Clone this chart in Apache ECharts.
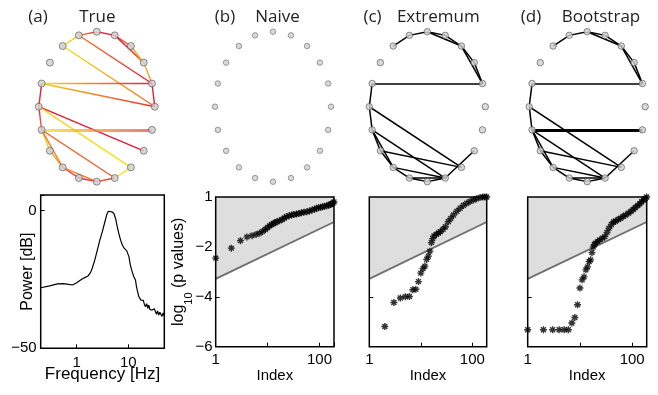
<!DOCTYPE html>
<html>
<head>
<meta charset="utf-8">
<script src="https://cdn.jsdelivr.net/npm/echarts@6/dist/echarts.min.js"></script>
<style>
  html, body { margin: 0; padding: 0; background: #fff; }
  #chart { width: 658px; height: 395px; }
</style>
</head>
<body>
<div id="chart"></div>
<script>
// ---- data ----
const nodeCount = 20; // nodes on the ring, node 0 at top, clockwise
const panelLetters = ['(a)', '(b)', '(c)', '(d)'];
const panelNames = ['True', 'Naive', 'Extremum', 'Bootstrap'];

// true network: [from, to, heat at from, heat at to, strength]  (heat 0 = yellow, 1 = red)
const trueEdges = [
  [18, 19, 0, 0.2, 1], [19, 0, 0.5, 0.9, 1], [0, 1, 0.9, 1, 1], [1, 2, 0.9, 0.6, 1],
  [1, 3, 1, 0.7, 1], [2, 3, 0.5, 0.1, 1], [3, 4, 0.2, 0.5, 1], [4, 5, 1, 1, 1],
  [18, 5, 0, 0.6, 1], [19, 4, 0.5, 1, 1], [16, 4, 0, 1, 1], [16, 5, 0.1, 0.9, 1],
  [16, 15, 1, 0.9, 1], [15, 14, 1, 0.6, 1], [15, 7, 1, 1, 1], [15, 8, 0.1, 0, 1],
  [14, 6, 0, 0.85, 2], [14, 9, 0.6, 0.7, 1], [14, 13, 0, 0.2, 1], [13, 12, 0.2, 0.5, 1],
  [14, 12, 0.6, 0.5, 1], [12, 11, 0.6, 1, 1], [11, 10, 1, 0.8, 1], [12, 10, 0.5, 0.6, 1],
  [10, 9, 0.7, 0.9, 1], [9, 8, 0, 0, 1]
];
const naiveEdges = [];
// [from, to, strength]
const extremumEdges = [
  [18, 19, 1], [19, 0, 1], [0, 1, 1], [1, 2, 1], [2, 3, 1], [3, 4, 1], [0, 2, 1], [2, 4, 1],
  [16, 4, 1], [16, 15, 1], [15, 14, 1], [15, 8, 1], [14, 13, 1], [13, 12, 1], [14, 12, 1],
  [14, 9, 1], [13, 8, 1], [12, 11, 1], [11, 10, 1], [10, 9, 1], [12, 9, 1], [11, 9, 1], [7, 9, 1]
];
const bootstrapEdges = extremumEdges.concat([[14, 6, 2]]);

// power spectrum
const freqHz = [0.2, 0.3, 0.42, 0.55, 0.7, 0.83, 1.0, 1.19, 1.4, 1.66, 1.85, 2.0, 2.25, 2.51, 2.8,
  3.14, 3.5, 3.8, 4.1, 4.4, 4.8, 5.26, 5.7, 6.1, 6.6, 7.1, 7.6, 8.2, 8.7, 9.3, 9.8, 10.3, 10.9,
  11.6, 12.2, 12.8, 13.3, 13.8, 14.4, 14.9, 15.5, 16, 16.8, 17.6, 18.6, 19.6, 20.6, 21.6, 22.8,
  24, 25, 26.3, 27.6, 29, 30.5, 32, 33.7, 35.3, 37, 39, 41, 43, 45, 47.5, 50];
const powerDb = [-28, -27.3, -26.6, -26.5, -26.8, -27, -26.2, -25.2, -24.4, -23.7, -22.5, -20.9,
  -17.8, -14.3, -10.8, -7.6, -4.2, -1.6, -0.2, 0, -0.4, -1.0, -3, -5.8, -8.5, -10.7, -12.3, -13.5,
  -13.2, -14.5, -14, -16.7, -19.5, -21.5, -22.8, -24, -23.5, -25.2, -27.5, -28.8, -29.3, -31.2,
  -30.8, -32.5, -33.1, -32.6, -34.1, -34.9, -33.8, -35.5, -34.3, -35.9, -35.2, -36.1, -36.8,
  -35.6, -36.7, -37.6, -36.4, -37.9, -36.9, -37.3, -38.4, -37.2, -38.3];

// sorted p values, log10
const naiveIndex = [1, 2, 3, 4, 5, 6, 7, 8, 9, 10, 11, 12, 13, 14, 15, 17, 19, 21, 23, 26, 29, 32,
  36, 40, 45, 50, 57, 64, 72, 80, 88, 96, 105, 115, 125, 138, 150, 160, 170, 180, 190];
const naiveLogP = [-2.45, -2.05, -1.75, -1.6, -1.55, -1.5, -1.45, -1.38, -1.3, -1.22, -1.15, -1.1,
  -1.06, -1.02, -0.99, -0.95, -0.9, -0.84, -0.79, -0.75, -0.72, -0.7, -0.68, -0.66, -0.63, -0.61,
  -0.59, -0.56, -0.52, -0.49, -0.45, -0.43, -0.41, -0.39, -0.37, -0.35, -0.33, -0.3, -0.28, -0.25, -0.2];
const extremumIndex = [2, 3, 4, 5, 6, 7, 8, 9, 10, 11, 12, 13, 14, 15, 16, 17, 18, 20, 22, 24, 27,
  30, 34, 38, 43, 50, 58, 67, 78, 90, 105, 120, 141, 160, 175, 190];
const extremumLogP = [-5.19, -4.23, -4.05, -4.0, -3.99, -3.72, -3.7, -3.39, -3.05, -2.87, -2.77,
  -2.5, -2.37, -2.17, -1.83, -1.67, -1.56, -1.5, -1.44, -1.39, -1.29, -1.19, -0.99, -0.86, -0.72,
  -0.57, -0.45, -0.34, -0.25, -0.18, -0.12, -0.07, -0.02, 0, 0, 0];
const bootstrapIndex = [1, 2, 3, 4, 5, 6, 7, 8, 9, 10, 11, 12, 13, 14, 15, 16, 17, 18, 19, 20, 22,
  24, 27, 30, 33, 36, 40, 44, 48, 54, 60, 67, 75, 85, 95, 105, 115, 128, 140, 152, 165, 178, 190];
const bootstrapLogP = [-5.32, -5.32, -5.32, -5.32, -5.32, -5.32, -5.05, -4.83, -4.32, -3.65, -3.32,
  -3.2, -2.92, -2.8, -2.59, -2.52, -2.23, -2.01, -1.9, -1.85, -1.78, -1.72, -1.65, -1.59, -1.42,
  -1.25, -1.1, -1.0, -0.97, -0.9, -0.85, -0.78, -0.72, -0.65, -0.57, -0.5, -0.42, -0.34, -0.27,
  -0.19, -0.12, -0.06, 0];

// significance threshold line
const thresholdIndex = [1, 190];
const thresholdLogP = [-3.28, -1.0];

// ---- layout / style ----
const labelFont = 'Liberation Sans';
const titleFont = 'Open Sans';
const netCenters = [96.8, 273, 427.3, 587.2];
const netHalfW = 58, netTop = 31.7, netH = 150;
const plotBoxes = [
  { left: 40.7, top: 195, width: 123.6, height: 153.3 },
  { left: 215.7, top: 197, width: 118.3, height: 149.7 },
  { left: 369.3, top: 197, width: 117.4, height: 149.7 },
  { left: 527.7, top: 197, width: 119, height: 149.7 }
];
const heatStops = [[247, 228, 20], [241, 136, 50], [228, 26, 56]];
const starPath = 'path://M-1,-5L1,-5L1,5L-1,5Z M-5,-1L5,-1L5,1L-5,1Z ' +
  'M-4.2,-2.8L-2.8,-4.2L4.2,2.8L2.8,4.2Z M-4.2,2.8L2.8,-4.2L4.2,-2.8L-2.8,4.2Z';

function heat(v) {
  const s = v <= 0.5 ? 0 : 1;
  const t = v <= 0.5 ? v / 0.5 : (v - 0.5) / 0.5;
  const a = heatStops[s], b = heatStops[s + 1];
  const c = a.map((x, i) => Math.round(x + (b[i] - x) * t));
  return 'rgb(' + c.join(',') + ')';
}

function nodePos(k) {
  const ang = (90 - 360 / nodeCount * k) * Math.PI / 180;
  return [Math.cos(ang), Math.sin(ang)];
}
const nodeData = [];
for (let k = 0; k < nodeCount; k++) nodeData.push(nodePos(k));

function edgeLine(e, colored, baseWidth) {
  const p = nodePos(e[0]), q = nodePos(e[1]);
  const strength = colored ? e[4] : e[2];
  let color = '#000';
  if (colored) {
    const x0 = p[0] <= q[0] ? 0 : 1, y0 = p[1] >= q[1] ? 0 : 1;
    color = {
      type: 'linear', x: x0, y: y0, x2: 1 - x0, y2: 1 - y0,
      colorStops: [{ offset: 0, color: heat(e[2]) }, { offset: 1, color: heat(e[3]) }]
    };
  }
  return {
    coords: [p, q],
    lineStyle: { color: color, width: baseWidth * strength, opacity: colored && strength > 1 ? 0.7 : 1 }
  };
}

const grids = [], xAxes = [], yAxes = [], series = [];
const edgeSets = [trueEdges, naiveEdges, extremumEdges, bootstrapEdges];
const nodeSizes = [7, 5.5, 6.5, 6.5];

// network panels
for (let i = 0; i < 4; i++) {
  grids.push({ left: netCenters[i] - netHalfW, top: netTop, width: netHalfW * 2, height: netH, show: false });
  xAxes.push({ gridIndex: i, type: 'value', min: -1, max: 1, show: false });
  yAxes.push({ gridIndex: i, type: 'value', min: -1, max: 1, show: false });
  if (edgeSets[i].length) {
    series.push({
      type: 'lines', coordinateSystem: 'cartesian2d', xAxisIndex: i, yAxisIndex: i,
      silent: true, z: 2,
      data: edgeSets[i].map(e => edgeLine(e, i === 0, i === 0 ? 1.4 : 1.5))
    });
  }
  series.push({
    type: 'scatter', xAxisIndex: i, yAxisIndex: i, data: nodeData, clip: false, z: 3,
    symbolSize: nodeSizes[i],
    itemStyle: { color: '#cfcfcf', borderColor: i === 1 ? '#6a6a6a' : '#505050', borderWidth: 0.8 }
  });
}

// plot panels
const tickStyle = { show: true, inside: true, length: 4, lineStyle: { color: '#000', width: 1 } };
const noLine = { show: false, onZero: false };
function logLabel(keep) {
  return function (v) {
    for (const k of keep) if (Math.abs(v - k) < 1e-6 * k) return String(k);
    return '';
  };
}
for (let j = 0; j < 4; j++) {
  grids.push(Object.assign({ show: true, borderColor: '#000', borderWidth: 1.5, z: 10 }, plotBoxes[j]));
}
// (a) spectrum
xAxes.push({
  gridIndex: 4, type: 'log', logBase: 10, min: 0.2, max: 50,
  axisLine: noLine, axisTick: tickStyle, splitLine: { show: false }, minorTick: { show: false },
  axisLabel: { margin: 7, color: '#000', fontSize: 15, fontFamily: labelFont, formatter: logLabel([1, 10]) },
  name: 'Frequency [Hz]', nameLocation: 'middle', nameGap: 18, nameMoveOverlap: false,
  nameTextStyle: { color: '#000', fontSize: 17, fontFamily: labelFont }
});
yAxes.push({
  gridIndex: 4, type: 'value', min: -50, max: 5.7, interval: 50,
  axisLine: noLine, axisTick: tickStyle, splitLine: { show: false },
  axisLabel: { margin: 4, color: '#000', fontSize: 15, fontFamily: labelFont,
    formatter: v => v === 0 ? '0' : (v === -50 ? '\u221250' : '') },
  name: 'Power [dB]', nameLocation: 'middle', nameGap: 5, nameRotate: 90, nameMoveOverlap: false,
  nameTextStyle: { color: '#000', fontSize: 16, fontFamily: labelFont }
});
series.push({
  type: 'line', xAxisIndex: 4, yAxisIndex: 4, showSymbol: false, silent: true,
  data: freqHz.map((f, i) => [f, powerDb[i]]),
  lineStyle: { color: '#000', width: 1.2 }
});

// (b)-(d) p values
const pIndex = [naiveIndex, extremumIndex, bootstrapIndex];
const pLog = [naiveLogP, extremumLogP, bootstrapLogP];
for (let j = 0; j < 3; j++) {
  const a = 5 + j;
  xAxes.push({
    gridIndex: a, type: 'log', logBase: 10, min: 1, max: 190,
    axisLine: noLine, axisTick: tickStyle, splitLine: { show: false }, minorTick: { show: false },
    axisLabel: { margin: 6, color: '#000', fontSize: 15, fontFamily: labelFont, formatter: logLabel([1, 100]) },
    name: 'Index', nameLocation: 'middle', nameGap: 22, nameMoveOverlap: false,
    nameTextStyle: { color: '#000', fontSize: 15, fontFamily: labelFont }
  });
  const yAx = {
    gridIndex: a, type: 'value', min: -6, max: 0, interval: 2,
    axisLine: noLine, axisTick: tickStyle, splitLine: { show: false },
    axisLabel: { show: j === 0, margin: 3, color: '#000', fontSize: 15, fontFamily: labelFont,
      formatter: v => v === 0 ? '1' : '\u2212' + Math.abs(v) }
  };
  if (j === 0) {
    Object.assign(yAx, {
      name: '{t|log}{s|10}{t| (p values)}', nameLocation: 'middle', nameGap: 21, nameRotate: 90,
      nameMoveOverlap: false,
      nameTextStyle: {
        color: '#000', fontFamily: labelFont,
        rich: {
          t: { fontSize: 16, fontFamily: labelFont, color: '#000', lineHeight: 24, verticalAlign: 'top' },
          s: { fontSize: 11, fontFamily: labelFont, color: '#000', lineHeight: 11, verticalAlign: 'bottom' }
        }
      }
    });
  }
  yAxes.push(yAx);
  series.push({
    type: 'line', xAxisIndex: a, yAxisIndex: a, showSymbol: false, silent: true, z: 1,
    data: thresholdIndex.map((x, i) => [x, thresholdLogP[i]]),
    lineStyle: { color: '#6e6e6e', width: 1.8 },
    areaStyle: { color: '#dedede', opacity: 1, origin: 'end' }
  });
  series.push({
    type: 'scatter', xAxisIndex: a, yAxisIndex: a, silent: true, z: 3,
    symbol: starPath, symbolSize: 7,
    itemStyle: { color: '#000' },
    data: pIndex[j].map((x, i) => [x, pLog[j][i]])
  });
}

// panel titles
const titleGraphics = [];
const letterX = [38, 225, 372.5, 531];
const nameX = [97.3, 277.5, 438.3, 601];
for (let i = 0; i < 4; i++) {
  titleGraphics.push({ type: 'text', x: letterX[i], y: 17, silent: true,
    style: { text: panelLetters[i], fill: '#222', font: '17px "' + titleFont + '"', textAlign: 'center', textVerticalAlign: 'middle' } });
  titleGraphics.push({ type: 'text', x: nameX[i], y: 17, silent: true,
    style: { text: panelNames[i], fill: '#222', font: '17px "' + titleFont + '"', textAlign: 'center', textVerticalAlign: 'middle' } });
}

const chart = echarts.init(document.getElementById('chart'));
chart.setOption({
  animation: false,
  backgroundColor: '#fff',
  grid: grids,
  xAxis: xAxes,
  yAxis: yAxes,
  series: series,
  graphic: titleGraphics
});
</script>
</body>
</html>
